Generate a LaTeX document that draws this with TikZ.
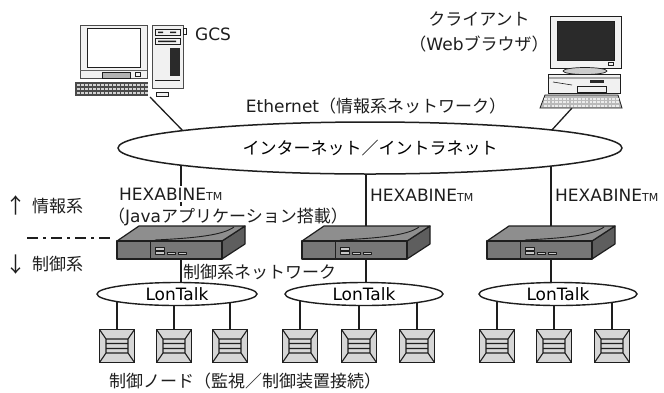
\documentclass[tikz,border=0pt]{standalone}
\usepackage{fontspec}
\setmainfont{DejaVu Sans}
\newfontfamily\jp{Noto Sans CJK JP}
\usetikzlibrary{shapes.geometric}
\pgfdeclarelayer{canvas}
\pgfdeclarelayer{background}
\pgfsetlayers{canvas,background,main}

\definecolor{ink}{HTML}{1E1E1E}
\definecolor{nodefill}{HTML}{D6D6D6}
\definecolor{rtop}{HTML}{8E8E8E}
\definecolor{rfront}{HTML}{777777}
\definecolor{rside}{HTML}{5E5E5E}
\definecolor{rled}{HTML}{C8C8C8}
\definecolor{case}{HTML}{F1F1F1}
\definecolor{crt}{HTML}{2A2A2A}
\definecolor{keys}{HTML}{4A4A4A}

\newcommand\tmsign{{\fontsize{11}{11}\selectfont TM}}

\tikzset{
  txt/.style={inner sep=0pt, text=ink},
  wire/.style={draw=ink, line width=1.3pt},
  net/.style={ellipse, draw=ink, line width=1.5pt, fill=white, inner sep=0pt},
  rarea/.style={minimum width=128pt, minimum height=33pt, inner sep=0pt},
  ctrl/.style={draw=ink, line width=1.4pt, fill=nodefill,
    minimum width=35pt, minimum height=33pt, inner sep=0pt,
    path picture={
      \coordinate (pc) at (path picture bounding box.center);
      \draw[ink, line width=1.1pt]
        ([xshift=-11pt,yshift=7pt]pc) rectangle ([xshift=11pt,yshift=-7pt]pc)
        ([xshift=-11pt,yshift=2.5pt]pc) -- ([xshift=11pt,yshift=2.5pt]pc)
        ([xshift=-11pt,yshift=-2.5pt]pc) -- ([xshift=11pt,yshift=-2.5pt]pc)
        (path picture bounding box.north west) -- ([xshift=-11pt,yshift=7pt]pc)
        (path picture bounding box.north east) -- ([xshift=11pt,yshift=7pt]pc)
        (path picture bounding box.south west) -- ([xshift=-11pt,yshift=-7pt]pc)
        (path picture bounding box.south east) -- ([xshift=11pt,yshift=-7pt]pc);
    }},
  pics/router/.style={code={
    \begin{scope}[shift={(-64,-1.5)}, line join=round]
      % right side, top and front faces
      \filldraw[fill=rside, draw=ink, line width=1.2pt]
        (105,0) -- (128,-15) -- (128,3) -- (105,18) -- cycle;
      \filldraw[fill=rtop, draw=ink, line width=1.2pt]
        (0,0) -- (22,-15) -- (128,-15) -- (105,0) -- cycle;
      \filldraw[fill=rfront, draw=ink, line width=1.2pt]
        (0,0) rectangle (105,18);
      % raised lid curve
      \draw[ink, line width=0.9pt] (38,-1) .. controls (80,-3) and (106,-6) .. (117,-14);
      % panel divider and status lamps
      \draw[ink, line width=0.9pt] (33,0) -- (33,18);
      \filldraw[fill=rled, draw=ink, line width=0.5pt]
        (38,6) rectangle (47,8.8)
        (38,10.5) rectangle (47,13.3)
        (50,11) rectangle (58,13.5)
        (61,11) rectangle (69,13.5);
    \end{scope}
  }},
}

\begin{document}
\begin{tikzpicture}[x=1pt, y=-1pt, font=\fontsize{17}{20}\selectfont]
\useasboundingbox (0,0) rectangle (664,392);
\begin{pgfonlayer}{canvas}
  \fill[white] (0,0) rectangle (664,392);
\end{pgfonlayer}

% ---------- GCS workstation ----------
\filldraw[fill=case, draw=ink!80, line width=0.8pt] (80,25) rectangle (147,78);
\filldraw[fill=white, draw=ink, line width=1pt] (87,28) rectangle (140,67);
\draw[ink!70, line width=0.6pt] (80,70) -- (147,70);
\filldraw[fill=gray!60, draw=ink, line width=0.6pt] (102,72) rectangle (130,78);
\draw[ink, line width=0.6pt] (135,72) rectangle (140,76);
\filldraw[fill=case, draw=ink!80, line width=0.8pt] (152,25) rectangle (183,88);
\draw[ink, line width=0.7pt] (155,29) rectangle (180,35) (155,38) rectangle (180,44);
\fill[ink] (158,31.5) rectangle (163,33) (170,31.5) rectangle (176,33) (158,40.5) rectangle (176,42);
\fill[crt] (170,48) rectangle (180,76);
\draw[ink, line width=0.6pt] (183,28) rectangle (186,34) (155,80) -- (180,80);
\fill[keys] (75,82) rectangle (148,96);
\foreach \i in {0,...,17} \foreach \j in {0,1,2}
  \fill[gray!35] (77+\i*4, 84+\j*4) rectangle ++(2.6,2.4);
\filldraw[fill=case, draw=ink, line width=0.6pt] (156,92) rectangle (168,96);
\coordinate (gcs) at (150,97);
\coordinate (gcsport) at (185,133);

% ---------- client workstation ----------
\filldraw[fill=case, draw=ink, line width=0.9pt] (550,16) rectangle (621,68);
\filldraw[fill=crt, draw=ink, line width=0.8pt] (557,21) rectangle (614,60);
\draw[ink, line width=0.6pt] (608,62) rectangle (613,65);
\filldraw[fill=gray!40, draw=ink, line width=0.7pt] (585,71) ellipse [x radius=22, y radius=3.5];
\filldraw[fill=case, draw=ink, line width=0.9pt] (548,74) rectangle (620,93);
\draw[ink, line width=0.6pt] (548,78) -- (620,78) (553,82) -- (572,85);
\fill[crt] (590,79.5) rectangle (604,83);
\draw[ink, line width=0.6pt] (577,86) rectangle (606,92);
\filldraw[fill=gray!55, draw=ink, line width=0.8pt] (545,95) -- (618,95) -- (622,108) -- (540,108) -- cycle;
\foreach \i in {0,...,19} \foreach \j in {0,1,2}
  \fill[gray!15] (544+\i*3.8, 97.5+\j*3.5) rectangle ++(2.6,2.2);
\coordinate (client) at (572,108);
\coordinate (clientport) at (551,131);

% ---------- information network ----------
\node[txt, anchor=west] (gcslbl) at (195,34) {GCS};
\node[txt, align=center, font=\fontsize{17}{25}\selectfont] (clientlbl) at (479,32)
  {{\jp クライアント}\\{\jp （}Web{\jp ブラウザ）}};
\node[txt] (ethlbl) at (376,106) {Ethernet{\jp （情報系ネットワーク）}};
\node[net, minimum width=504pt, minimum height=52pt] (inet) at (370,148)
  {\jp インターネット／イントラネット};

\node[txt, anchor=west, fill=white, inner ysep=2pt] (hx1) at (119,194) {HEXABINE\tmsign};
\node[txt, anchor=west, fill=white, inner ysep=2pt] (java) at (108,217)
  {{\jp （}Java{\jp アプリケーション搭載）}};
\node[txt, anchor=west] (hx2) at (370,195) {HEXABINE\tmsign};
\node[txt, anchor=west] (hx3) at (555,195) {HEXABINE\tmsign};

% ---------- layer boundary ----------
\node[txt, font=\fontsize{21}{21}\selectfont] (uparrow) at (16,205) {\jp ↑};
\node[txt, anchor=west] (infolbl) at (32,206) {\jp 情報系};
\coordinate (sepL) at (27,238);
\coordinate (sepR) at (110,238);
\draw[ink, line width=2.2pt, dash pattern=on 11pt off 5pt on 3pt off 5pt] (sepL) -- (sepR);
\node[txt, font=\fontsize{21}{21}\selectfont] (dnarrow) at (16,265) {\jp ↓};
\node[txt, anchor=west] (ctrllbl) at (32,264) {\jp 制御系};

% ---------- gateways ----------
\node[rarea] (r1) at (181,242.5) {};
\node[rarea] (r2) at (366,242.5) {};
\node[rarea] (r3) at (551,242.5) {};
\pic at (r1) {router};
\pic at (r2) {router};
\pic at (r3) {router};

\node[txt, anchor=west] (cnet) at (183,272) {\jp 制御系ネットワーク};

% ---------- field buses ----------
\node[net, line width=1.4pt, minimum width=160pt, minimum height=23pt] (lon1) at (177,294) {LonTalk};
\node[net, line width=1.4pt, minimum width=158pt, minimum height=23pt] (lon2) at (364,294) {LonTalk};
\node[net, line width=1.4pt, minimum width=158pt, minimum height=23pt] (lon3) at (558,294) {LonTalk};

\node[ctrl] (n1) at (117,346) {};
\node[ctrl] (n2) at (174,346) {};
\node[ctrl] (n3) at (230,346) {};
\node[ctrl] (n4) at (300,346) {};
\node[ctrl] (n5) at (359,346) {};
\node[ctrl] (n6) at (417,346) {};
\node[ctrl] (n7) at (497,346) {};
\node[ctrl] (n8) at (554,346) {};
\node[ctrl] (n9) at (612,346) {};

\node[txt] (nodelbl) at (245,381) {\jp 制御ノード（監視／制御装置接続）};

% ---------- connectors ----------
\begin{pgfonlayer}{background}
  \draw[wire] (gcs) -- (gcsport);
  \draw[wire] (client) -- (clientport);
  \foreach \r/\l in {r1/lon1, r2/lon2, r3/lon3} {
    \draw[wire] (\r.north |- inet.center) -- (\r.north);
    \draw[wire] (\r.south) -- (\r.south |- \l.center);
  }
  \foreach \n/\l in {n1/lon1, n2/lon1, n3/lon1, n4/lon2, n5/lon2, n6/lon2, n7/lon3, n8/lon3, n9/lon3}
    \draw[wire] (\n.north) -- (\n.north |- \l.center);
\end{pgfonlayer}
\end{tikzpicture}
\end{document}
